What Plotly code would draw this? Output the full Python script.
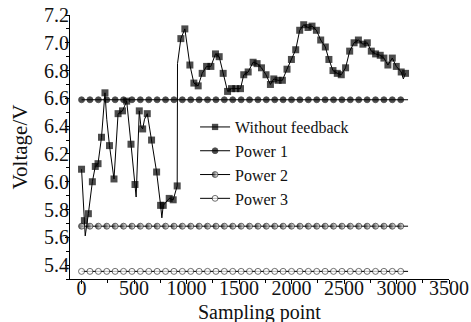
import plotly.graph_objects as go

# ---- data ----
# "Without feedback": sampled points (drawn with square markers)
wf_x = [0, 27, 65, 103, 131, 157, 190, 223, 266, 309, 348, 390, 430, 471, 509,
        550, 582, 626, 667, 715, 753, 778, 835, 873, 911, 946, 984, 1032, 1070,
        1111, 1149, 1191, 1232, 1276, 1311, 1349, 1391, 1428, 1469, 1514, 1545,
        1587, 1634, 1672, 1714, 1757, 1799, 1831, 1872, 1913, 1957, 1999, 2040,
        2078, 2116, 2157, 2195, 2237, 2278, 2322, 2356, 2395, 2436, 2474, 2515,
        2554, 2596, 2637, 2680, 2722, 2760, 2801, 2845, 2880, 2918, 2960, 2998,
        3045, 3086]
wf_y = [6.09, 5.72, 5.77, 6.00, 6.11, 6.13, 6.32, 6.64, 6.26, 6.02, 6.49, 6.51,
        6.58, 6.27, 5.98, 6.51, 6.38, 6.49, 6.30, 6.07, 5.83, 5.83, 5.88, 5.87,
        5.97, 7.03, 7.10, 6.84, 6.71, 6.69, 6.78, 6.83, 6.83, 6.92, 6.90, 6.78,
        6.65, 6.67, 6.67, 6.67, 6.77, 6.79, 6.86, 6.85, 6.82, 6.77, 6.70, 6.74,
        6.73, 6.73, 6.81, 6.88, 6.95, 7.09, 7.13, 7.11, 7.12, 7.09, 7.02, 6.97,
        6.88, 6.80, 6.78, 6.77, 6.82, 6.94, 7.00, 7.02, 6.99, 7.00, 6.94, 6.92,
        6.91, 6.89, 6.84, 6.89, 6.83, 6.79, 6.78]
# intermediate raw readings of the same series (no marker)
raw_x = [35, 205, 240, 520, 565, 600, 765, 914, 3065]
raw_y = [5.61, 6.45, 6.45, 5.89, 6.40, 6.45, 5.74, 6.85, 6.74]

# constant power levels
power_names = ["Power 1", "Power 2", "Power 3"]
power_values = [6.59, 5.68, 5.355]
power_marks = list(range(0, 3041, 80))   # sampling points carrying a marker
power_end = 3110

x_ticks = [0, 500, 1000, 1500, 2000, 2500, 3000, 3500]

# ---- build ----
pts = sorted([(x, y, True) for x, y in zip(wf_x, wf_y)] +
             [(x, y, False) for x, y in zip(raw_x, raw_y)])
line_x = [p[0] for p in pts]
line_y = [p[1] for p in pts]
line_ms = [7 if p[2] else 0 for p in pts]

INK = "#000000"
fig = go.Figure()
fig.add_trace(go.Scatter(
    x=line_x, y=line_y, mode="lines+markers", name="Without feedback",
    line=dict(color=INK, width=1),
    marker=dict(symbol="square", size=line_ms, color=INK, line=dict(width=0)),
))

styles = [
    dict(symbol="circle", color=INK, line=dict(width=0.8, color=INK)),
    dict(symbol="circle", color=INK, gradient=dict(type="horizontal", color="white"),
         line=dict(width=0.8, color=INK)),
    dict(symbol="circle", color="white", line=dict(width=0.8, color=INK)),
]
for name, lvl, st in zip(power_names, power_values, styles):
    xs = power_marks + [power_end]
    st = dict(st)
    st["size"] = [6] * len(power_marks) + [0]
    fig.add_trace(go.Scatter(
        x=xs, y=[lvl] * len(xs), mode="lines+markers", name=name,
        line=dict(color=INK, width=1), marker=st,
    ))

font = "Liberation Serif, Times New Roman, serif"
fig.update_layout(
    width=471, height=322,
    margin=dict(l=70, r=22, t=15, b=43),
    paper_bgcolor="white", plot_bgcolor="white",
    font=dict(family=font, size=20, color="#111111"),
    showlegend=True,
    legend=dict(x=0.33, y=0.64, xanchor="left", yanchor="top",
                bgcolor="rgba(0,0,0,0)", font=dict(size=16),
                tracegroupgap=0, itemwidth=30),
    annotations=[dict(text="Sampling point", x=0.5, y=0, xref="paper", yref="paper",
                      xanchor="center", yanchor="top", yshift=-20, showarrow=False,
                      font=dict(size=20))],
)
fig.update_xaxes(
    range=[-110, 3500], tickvals=x_ticks,
    showline=True, linecolor=INK, linewidth=1, showgrid=False, zeroline=False,
    ticks="outside", ticklen=4, tickcolor=INK,
    minor=dict(dtick=250, tick0=0, ticks="outside", ticklen=3, tickcolor=INK),
    tickfont=dict(size=20), automargin=False, ticklabelstandoff=-13,
)
fig.update_yaxes(
    range=[5.30, 7.2], dtick=0.2, tick0=5.4, tickformat=".1f",
    showline=True, linecolor=INK, linewidth=1, showgrid=False, zeroline=False,
    ticks="outside", ticklen=4, tickcolor=INK,
    minor=dict(dtick=0.1, tick0=5.4, ticks="outside", ticklen=3, tickcolor=INK),
    title=dict(text="Voltage/V", font=dict(size=21), standoff=10),
    tickfont=dict(size=20), automargin=False, ticklabelstandoff=-8,
)
fig.write_html("out.html", post_script="document.body.style.margin='0';",
               config={"displayModeBar": False})
